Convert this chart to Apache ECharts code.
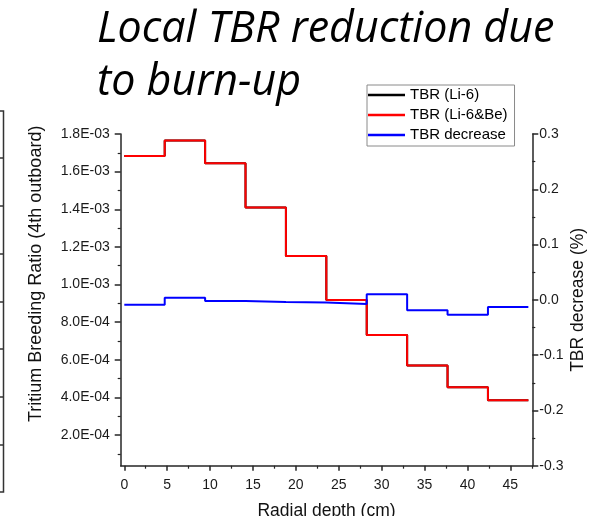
<!DOCTYPE html>
<html>
<head>
<meta charset="utf-8">
<script src="https://cdn.jsdelivr.net/npm/echarts@6/dist/echarts.min.js"></script>
<style>
html,body{margin:0;padding:0;background:#fff;}
#chart{width:593px;height:516px;}
</style>
</head>
<body>
<div id="chart"></div>
<script>
// ---- data ----
const binEdges = [0, 4.71, 9.42, 14.13, 18.84, 23.55, 28.26, 32.97, 37.68, 42.39, 47.1];
const tbrLi6Be = [1.683e-3, 1.766e-3, 1.644e-3, 1.410e-3, 1.151e-3, 0.918e-3, 0.732e-3, 0.569e-3, 0.454e-3, 0.385e-3];
const tbrLi6   = [1.683e-3, 1.766e-3, 1.644e-3, 1.410e-3, 1.151e-3, 0.918e-3, 0.732e-3, 0.569e-3, 0.454e-3, 0.385e-3];
const tbrDecrease = [-0.009, 0.004, -0.002, -0.004, -0.005, -0.0075, 0.010, -0.019, -0.027, -0.013];

const xTicks = [0, 5, 10, 15, 20, 25, 30, 35, 40, 45];
const xMinorTicks = [2.5, 7.5, 12.5, 17.5, 22.5, 27.5, 32.5, 37.5, 42.5, 47.5];
const leftTicks = [0.0002, 0.0004, 0.0006, 0.0008, 0.0010, 0.0012, 0.0014, 0.0016, 0.0018];
const leftMinorTicks = [0.0001, 0.0003, 0.0005, 0.0007, 0.0009, 0.0011, 0.0013, 0.0015, 0.0017];
const seriesNames = ['TBR (Li-6)', 'TBR (Li-6&Be)', 'TBR decrease'];

// ---- build ----
function stepData(vals) {
  return binEdges.map((e, i) => [e, vals[Math.min(i, vals.length - 1)]]);
}
function sci(v) {
  const p = v.toExponential(1).split('e');
  const n = parseInt(p[1], 10);
  return p[0] + 'E' + (n < 0 ? '-' : '+') + String(Math.abs(n)).padStart(2, '0');
}
const AX = '#262626';
const FONT = 'Liberation Sans, Arial, sans-serif';
const xMin = -0.42, xMax = 47.56;
const yLMin = 3.7e-5, yLMax = 1.8e-3;

const chart = echarts.init(document.getElementById('chart'), null, {renderer: 'canvas'});
chart.setOption({
  animation: false,
  backgroundColor: '#fff',
  title: {
    text: 'Local TBR reduction due\nto burn-up',
    left: 97, top: 3, padding: 0,
    textStyle: {fontFamily: 'Open Sans', fontStyle: 'italic', fontWeight: 'normal', fontSize: 43, lineHeight: 53.4, color: '#000'}
  },
  legend: {
    orient: 'vertical',
    left: 367, top: 85,
    padding: [2, 7, 3, 1],
    borderColor: '#8a8a8a', borderWidth: 1,
    icon: 'rect',
    itemWidth: 37, itemHeight: 2.5, itemGap: 4,
    textStyle: {fontFamily: FONT, fontSize: 15, color: '#000', lineHeight: 16},
    data: seriesNames
  },
  grid: {left: 120.7, right: 60.7, top: 134, bottom: 50.3, containLabel: false, outerBoundsMode: 'none'},
  xAxis: [{
    type: 'value', min: xMin, max: xMax, position: 'bottom',
    name: 'Radial depth (cm)', nameLocation: 'middle', nameGap: 36,
    nameTextStyle: {fontFamily: FONT, fontSize: 17.5, color: '#111'},
    axisLine: {show: true, onZero: false, lineStyle: {color: AX, width: 1.5}},
    axisTick: {show: true, inside: false, length: 5, customValues: xTicks, lineStyle: {color: AX, width: 1.5}},
    axisLabel: {customValues: xTicks, margin: 12, fontFamily: FONT, fontSize: 14, color: '#1a1a1a'},
    splitLine: {show: false}
  }, {
    type: 'value', min: xMin, max: xMax, position: 'bottom',
    axisLine: {show: false, onZero: false},
    axisTick: {show: true, inside: false, length: 3, customValues: xMinorTicks, lineStyle: {color: AX, width: 1.2}},
    axisLabel: {show: false},
    splitLine: {show: false}
  }],
  yAxis: [{
    type: 'value', min: yLMin, max: yLMax, position: 'left',
    name: 'Tritium Breeding Ratio (4th outboard)', nameLocation: 'middle', nameGap: 76, nameRotate: 90,
    nameTextStyle: {fontFamily: FONT, fontSize: 18, color: '#111', padding: [0, 0, 0, 52]},
    axisLine: {show: true, onZero: false, lineStyle: {color: AX, width: 1.5}},
    axisTick: {show: true, inside: false, length: 6, customValues: leftTicks, lineStyle: {color: AX, width: 1.5}},
    axisLabel: {customValues: leftTicks, margin: 11, formatter: sci, fontFamily: FONT, fontSize: 14, color: '#1a1a1a'},
    splitLine: {show: false},
    alignTicks: false
  }, {
    type: 'value', min: -0.3, max: 0.3, interval: 0.1, position: 'right',
    name: 'TBR decrease (%)', nameLocation: 'middle', nameGap: 37, nameRotate: 90, nameMoveOverlap: false,
    nameTextStyle: {fontFamily: FONT, fontSize: 17.5, color: '#111'},
    axisLine: {show: true, onZero: false, lineStyle: {color: AX, width: 1.5}},
    axisTick: {show: true, inside: false, length: 6, lineStyle: {color: AX, width: 1.5}},
    minorTick: {show: true, splitNumber: 2, length: 3, lineStyle: {color: AX, width: 1.2}},
    axisLabel: {margin: 7, formatter: v => (Math.abs(v) < 1e-9 ? '0.0' : v.toFixed(1)), fontFamily: FONT, fontSize: 14, color: '#1a1a1a'},
    splitLine: {show: false},
    alignTicks: false
  }, {
    type: 'value', min: yLMin, max: yLMax, position: 'left',
    axisLine: {show: false, onZero: false},
    axisTick: {show: true, inside: false, length: 3, customValues: leftMinorTicks, lineStyle: {color: AX, width: 1.2}},
    axisLabel: {show: false},
    splitLine: {show: false},
    alignTicks: false
  }],
  series: [{
    name: seriesNames[0], type: 'line', step: 'end', xAxisIndex: 0, yAxisIndex: 0,
    data: stepData(tbrLi6), symbol: 'none', showSymbol: false,
    lineStyle: {color: '#000', width: 2}, itemStyle: {color: '#000'}
  }, {
    name: seriesNames[1], type: 'line', step: 'end', xAxisIndex: 0, yAxisIndex: 0,
    data: stepData(tbrLi6Be), symbol: 'none', showSymbol: false,
    lineStyle: {color: '#ff0000', width: 2}, itemStyle: {color: '#ff0000'}
  }, {
    name: seriesNames[2], type: 'line', step: 'end', xAxisIndex: 0, yAxisIndex: 1,
    data: stepData(tbrDecrease), symbol: 'none', showSymbol: false,
    lineStyle: {color: '#0000ff', width: 2}, itemStyle: {color: '#0000ff'}
  }],
  graphic: [{
    type: 'polyline', silent: true,
    shape: {points: [[0, 111], [3.5, 111], [3.5, 492], [0, 492]]},
    style: {stroke: '#333', lineWidth: 1.5, fill: null}
  }, {
    type: 'group', silent: true,
    children: [158, 206, 254, 302, 349, 397, 445].map(y => ({
      type: 'line', shape: {x1: 0, y1: y, x2: 3.5, y2: y}, style: {stroke: '#333', lineWidth: 1.5}
    }))
  }]
});
</script>
</body>
</html>
